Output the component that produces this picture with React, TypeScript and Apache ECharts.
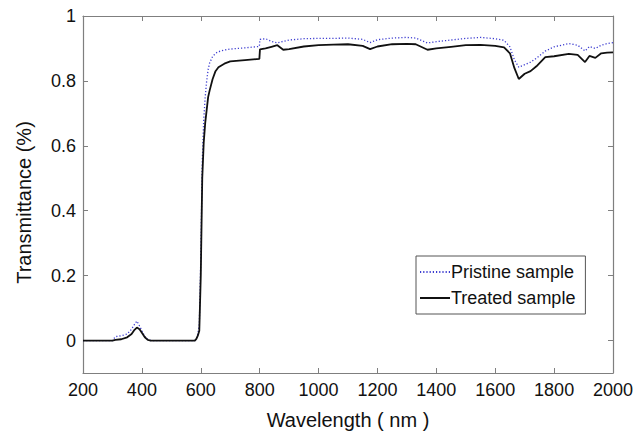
import React, { useEffect, useRef } from "react";
import * as echarts from "echarts";

const wavelength = [200, 300, 310, 330, 350, 365, 375, 383, 392, 400, 410, 420, 430, 500, 580, 585, 590, 595, 600, 605, 610, 615, 620, 625, 630, 640, 650, 660, 680, 700, 750, 799, 801, 820, 840, 860, 880, 900, 950, 1000, 1050, 1100, 1150, 1175, 1200, 1250, 1300, 1330, 1370, 1400, 1450, 1500, 1550, 1600, 1630, 1650, 1665, 1680, 1700, 1720, 1740, 1770, 1800, 1850, 1880, 1905, 1920, 1940, 1960, 1980, 2000];

const treated = [0, 0, 0.002, 0.004, 0.01, 0.02, 0.033, 0.04, 0.035, 0.024, 0.01, 0.002, 0, 0, 0, 0.005, 0.015, 0.03, 0.2, 0.5, 0.61, 0.67, 0.71, 0.75, 0.77, 0.805, 0.83, 0.842, 0.853, 0.86, 0.864, 0.868, 0.897, 0.9, 0.905, 0.91, 0.896, 0.898, 0.906, 0.91, 0.912, 0.913, 0.908, 0.898, 0.906, 0.913, 0.914, 0.913, 0.896, 0.9, 0.905, 0.91, 0.911, 0.908, 0.903, 0.885, 0.84, 0.806, 0.822, 0.83, 0.845, 0.873, 0.876, 0.883, 0.88, 0.858, 0.877, 0.871, 0.885, 0.887, 0.888];

const pristine = [0, 0, 0.012, 0.015, 0.02, 0.035, 0.05, 0.06, 0.045, 0.03, 0.012, 0.004, 0, 0, 0, 0.006, 0.02, 0.05, 0.25, 0.55, 0.68, 0.75, 0.8, 0.835, 0.855, 0.875, 0.885, 0.89, 0.895, 0.898, 0.902, 0.906, 0.928, 0.93, 0.922, 0.917, 0.922, 0.926, 0.93, 0.931, 0.931, 0.932, 0.928, 0.918, 0.927, 0.932, 0.934, 0.932, 0.917, 0.921, 0.926, 0.931, 0.934, 0.93, 0.925, 0.905, 0.865, 0.842, 0.85, 0.858, 0.87, 0.892, 0.905, 0.915, 0.91, 0.892, 0.906, 0.9, 0.91, 0.915, 0.918];

const yTicks = [0, 0.2, 0.4, 0.6, 0.8, 1];
const seriesNames = ["Pristine sample", "Treated sample"];

const FONT = "'Liberation Sans', Arial, Helvetica, sans-serif";
const FRAME = "#7f7f7f";

export default function App() {
  const ref = useRef<HTMLDivElement>(null);
  useEffect(() => {
    if (!ref.current) return;
    const chart = echarts.init(ref.current, undefined, { renderer: "svg" });
    const tickCommon = { show: true, inside: true, length: 5, lineStyle: { color: FRAME, width: 1 } };
    const plain = (v: number) => String(v);
    chart.setOption({
      animation: false,
      backgroundColor: "#fff",
      textStyle: { fontFamily: FONT },
      grid: { left: 83, right: 31, top: 16, bottom: 59, containLabel: false },
      legend: {
        data: seriesNames,
        orient: "vertical",
        left: 416,
        top: 256,
        itemWidth: 30,
        itemHeight: 10,
        itemGap: 8,
        padding: [7, 10, 7, 3],
        backgroundColor: "#fff",
        borderColor: "#555",
        borderWidth: 1,
        borderRadius: 0,
        itemStyle: { color: "transparent", borderWidth: 0 },
        textStyle: { fontFamily: FONT, fontSize: 18, color: "#111", padding: [0, 0, 0, -4] },
      },
      xAxis: [
        {
          type: "value",
          min: 200,
          max: 2000,
          interval: 200,
          name: "Wavelength ( nm )",
          nameLocation: "middle",
          nameGap: 37,
          nameTextStyle: { fontFamily: FONT, fontSize: 20, color: "#111" },
          axisLine: { show: true, onZero: false, lineStyle: { color: FRAME, width: 1.2 } },
          axisTick: tickCommon,
          axisLabel: { fontFamily: FONT, fontSize: 18, color: "#111", margin: 8, formatter: plain },
          splitLine: { show: false },
        },
        {
          type: "value",
          position: "top",
          min: 200,
          max: 2000,
          interval: 200,
          axisLine: { show: true, onZero: false, lineStyle: { color: FRAME, width: 1.2 } },
          axisTick: tickCommon,
          axisLabel: { show: false },
          splitLine: { show: false },
        },
      ],
      yAxis: [
        {
          type: "value",
          min: -0.1,
          max: 1,
          name: "Transmittance (%)",
          nameLocation: "middle",
          nameGap: 49,
          nameTextStyle: { fontFamily: FONT, fontSize: 20, color: "#111", padding: [0, 16, 0, 0] },
          axisLine: { show: true, onZero: false, lineStyle: { color: FRAME, width: 1.2 } },
          axisTick: { ...tickCommon, customValues: yTicks },
          axisLabel: { fontFamily: FONT, fontSize: 18, color: "#111", margin: 7, customValues: yTicks, formatter: plain },
          splitLine: { show: false },
        },
        {
          type: "value",
          position: "right",
          min: -0.1,
          max: 1,
          axisLine: { show: true, onZero: false, lineStyle: { color: FRAME, width: 1.2 } },
          axisTick: { ...tickCommon, customValues: yTicks },
          axisLabel: { show: false, customValues: yTicks },
          splitLine: { show: false },
        },
      ],
      series: [
        {
          name: seriesNames[0],
          type: "line",
          symbol: "none",
          data: wavelength.map((w, i) => [w, pristine[i]]),
          lineStyle: { color: "#3c3cd0", width: 1.3, type: [1.2, 2] },
          itemStyle: { color: "#3c3cd0" },
          z: 2,
        },
        {
          name: seriesNames[1],
          type: "line",
          symbol: "none",
          data: wavelength.map((w, i) => [w, treated[i]]),
          lineStyle: { color: "#111", width: 1.8 },
          itemStyle: { color: "#111" },
          z: 3,
        },
      ],
    });
    return () => chart.dispose();
  }, []);
  return <div ref={ref} style={{ width: 644, height: 435, position: "absolute", left: 0, top: 0 }} />;
}
